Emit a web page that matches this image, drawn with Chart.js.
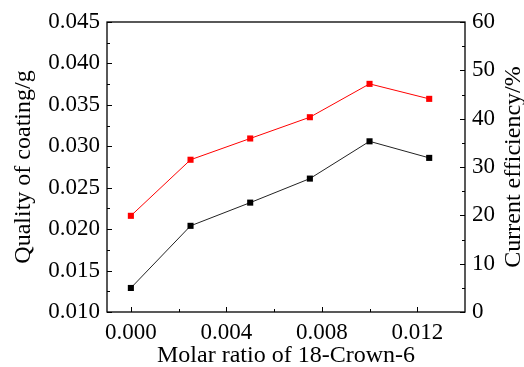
<!DOCTYPE html>
<html>
<head>
<meta charset="utf-8">
<script src="https://cdn.jsdelivr.net/npm/chart.js@4/dist/chart.umd.min.js"></script>
<style>
  html, body { margin: 0; padding: 0; background: #fff; }
  #wrap { width: 524px; height: 367px; }
</style>
</head>
<body>
<div id="wrap"><canvas id="myChart" width="524" height="367"></canvas></div>
<script>
// data
var molarRatio = [0.0, 0.0025, 0.005, 0.0075, 0.01, 0.0125];
var coatingMass = [0.0129, 0.0204, 0.0232, 0.0261, 0.0306, 0.0286];
var currentEfficiency = [19.9, 31.5, 35.9, 40.3, 47.2, 44.1];

var xTicks = [0.0, 0.004, 0.008, 0.012];
var xMinor = [0.002, 0.006, 0.01];
var leftTicks = [0.010, 0.015, 0.020, 0.025, 0.030, 0.035, 0.040, 0.045];
var rightTicks = [0, 10, 20, 30, 40, 50, 60];

var serif = "'Liberation Serif', 'Times New Roman', serif";

function pairs(xs, ys) {
  return xs.map(function (x, i) { return { x: x, y: ys[i] }; });
}

// inward ticks, frame and the right title (bottom-to-top)
var framePlugin = {
  id: "frame",
  afterDraw: function (chart) {
    var ctx = chart.ctx, a = chart.chartArea;
    var sx = chart.scales.x, sl = chart.scales.yL, sr = chart.scales.yR;
    ctx.save();
    ctx.strokeStyle = "#000";
    ctx.lineWidth = 1.3;
    ctx.strokeRect(a.left, a.top, a.right - a.left, a.bottom - a.top);

    ctx.lineWidth = 1;
    ctx.beginPath();
    xTicks.forEach(function (v) {
      var p = Math.round(sx.getPixelForValue(v)) + 0.5;
      ctx.moveTo(p, a.bottom); ctx.lineTo(p, a.bottom - 5);
    });
    xMinor.forEach(function (v) {
      var p = Math.round(sx.getPixelForValue(v)) + 0.5;
      ctx.moveTo(p, a.bottom); ctx.lineTo(p, a.bottom - 3);
    });
    leftTicks.forEach(function (v, i) {
      var p = Math.round(sl.getPixelForValue(v)) + 0.5;
      ctx.moveTo(a.left, p); ctx.lineTo(a.left + 5, p);
      if (i < leftTicks.length - 1) {
        var m = Math.round(sl.getPixelForValue(v + 0.0025)) + 0.5;
        ctx.moveTo(a.left, m); ctx.lineTo(a.left + 3, m);
      }
    });
    rightTicks.forEach(function (v, i) {
      var p = Math.round(sr.getPixelForValue(v)) + 0.5;
      ctx.moveTo(a.right, p); ctx.lineTo(a.right - 5, p);
      if (i < rightTicks.length - 1) {
        var m = Math.round(sr.getPixelForValue(v + 5)) + 0.5;
        ctx.moveTo(a.right, m); ctx.lineTo(a.right - 3, m);
      }
    });
    ctx.stroke();

    ctx.translate(514, (a.top + a.bottom) / 2);
    ctx.rotate(-Math.PI / 2);
    ctx.fillStyle = "#000";
    ctx.font = "24px " + serif;
    ctx.textAlign = "center";
    ctx.textBaseline = "middle";
    ctx.fillText("Current efficiency/%", 0, 0);
    ctx.restore();
  }
};

var config = {
  type: "line",
  data: {
    datasets: [
      {
        label: "Quality of coating",
        data: pairs(molarRatio, coatingMass),
        yAxisID: "yL",
        borderColor: "#222",
        backgroundColor: "#000",
        borderWidth: 1,
        pointStyle: "rect",
        pointRadius: 4.3,
        pointBorderWidth: 0,
        tension: 0
      },
      {
        label: "Current efficiency",
        data: pairs(molarRatio, currentEfficiency),
        yAxisID: "yR",
        borderColor: "#ff0000",
        backgroundColor: "#ff0000",
        borderWidth: 1,
        pointStyle: "rect",
        pointRadius: 4.3,
        pointBorderWidth: 0,
        tension: 0
      }
    ]
  },
  options: {
    responsive: false,
    animation: false,
    layout: { padding: { top: 22, left: 0, right: 0, bottom: 0 } },
    plugins: { legend: { display: false }, tooltip: { enabled: false } },
    scales: {
      x: {
        type: "linear",
        min: -0.001,
        max: 0.014,
        afterBuildTicks: function (s) { s.ticks = xTicks.map(function (v) { return { value: v }; }); },
        afterFit: function (s) { s.height = 55; },
        grid: { display: false, drawTicks: false },
        border: { display: false },
        ticks: {
          padding: 7,
          color: "#000",
          font: { family: serif, size: 23 },
          maxRotation: 0,
          callback: function (v) { return v.toFixed(3); }
        },
        title: {
          display: true,
          text: "Molar ratio of 18-Crown-6",
          color: "#000",
          font: { family: serif, size: 24 },
          padding: { top: 0, bottom: -3 }
        }
      },
      yL: {
        position: "left",
        min: 0.010,
        max: 0.045,
        afterBuildTicks: function (s) { s.ticks = leftTicks.map(function (v) { return { value: v }; }); },
        afterFit: function (s) { s.width = 107; },
        grid: { display: false, drawTicks: false },
        border: { display: false },
        ticks: {
          padding: 7,
          color: "#000",
          font: { family: serif, size: 23 },
          callback: function (v) { return v.toFixed(3); }
        },
        title: {
          display: true,
          text: "Quality of coating/g",
          color: "#000",
          font: { family: serif, size: 24 },
          padding: { top: 9, bottom: 0 }
        }
      },
      yR: {
        position: "right",
        min: 0,
        max: 60,
        afterBuildTicks: function (s) { s.ticks = rightTicks.map(function (v) { return { value: v }; }); },
        afterFit: function (s) { s.width = 59; },
        grid: { display: false, drawTicks: false },
        border: { display: false },
        ticks: {
          padding: 7,
          color: "#000",
          font: { family: serif, size: 23 }
        }
      }
    }
  },
  plugins: [framePlugin]
};

var myChart = new Chart(document.getElementById("myChart"), config);
</script>
</body>
</html>
